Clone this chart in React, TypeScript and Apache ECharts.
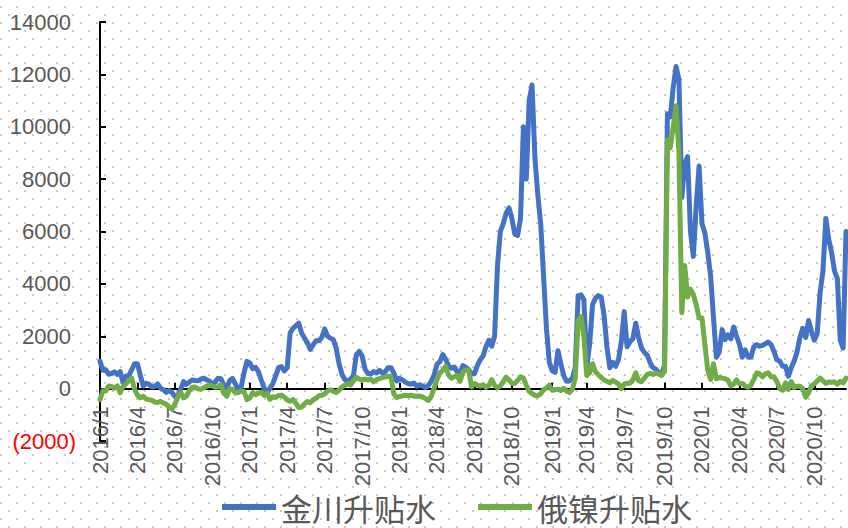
import React, { useEffect, useRef } from "react";
import * as echarts from "echarts";

// Weekly observations starting 2016-01-01
const startDate = "2016-01-01";

const quarterLabels = [
  "2016/1", "2016/4", "2016/7", "2016/10",
  "2017/1", "2017/4", "2017/7", "2017/10",
  "2018/1", "2018/4", "2018/7", "2018/10",
  "2019/1", "2019/4", "2019/7", "2019/10",
  "2020/1", "2020/4", "2020/7", "2020/10",
];

const yTicks = { min: -2000, max: 14000, interval: 2000 };

const jinchuanPremium = [
  1040, 700, 720, 550, 580, 640, 540, 650, 250, 480, 490, 720, 950,
  950, 500, 100, 200, 170, 60, 80, 180, 20, -40, -140, -70, -150,
  -300, -270, -30, 270, 160, 250, 330, 310, 300, 360, 400, 340, 290,
  180, 250, 400, 380, 130, 30, 300, 390, 180, -40, 50, 600, 1040,
  980, 760, 810, 650, 320, 20, -150, 20, 190, 490, 800, 840, 680,
  800, 2120, 2300, 2400, 2500, 2120, 1930, 1750, 1500, 1670, 1830, 1830, 1950,
  2280, 2000, 1930, 1870, 1550, 950, 550, 350, 290, 360, 500, 1300, 1420,
  1250, 750, 580, 560, 650, 600, 700, 600, 640, 800, 800, 600, 290,
  390, 330, 250, 190, 170, 210, 90, 150, 100, 40, 120, 280, 520,
  930, 1030, 1300, 1120, 870, 780, 820, 640, 620, 880, 820, 720, 560,
  570, 880, 1100, 1250, 1600, 1850, 1620, 2000, 4700, 6000, 6300, 6700, 6900,
  6500, 5900, 5850, 6500, 10000, 8000, 11000, 11600, 8800, 7400, 6300, 4300, 2300,
  1000, 680, 620, 1450, 950, 500, 280, 300, 400, 800, 3550, 3580, 3400,
  800, 1700, 3200, 3450, 3550, 3500, 2800, 1600, 800, 1000, 850, 1100, 1800,
  2940, 1600, 1800, 1900, 2500, 1950, 1550, 1380, 1280, 990, 800, 740, 600,
  530, 900, 10500, 10380, 11500, 12300, 11800, 7300, 8600, 8860, 6000, 5050, 7000,
  8500, 6300, 5950, 5200, 4300, 2700, 1200, 1400, 2250, 1870, 2050, 1900, 2350,
  2000, 1700, 1200, 1480, 1200, 1200, 1600, 1680, 1620, 1650, 1720, 1780, 1680,
  1420, 1100, 1050, 850, 850, 470, 800, 1050, 1400, 1950, 2300, 1950, 2600,
  2200, 1850, 2100, 3650, 4500, 6500, 5700, 5200, 4500, 4200, 1850, 1550, 6000,
];

const russianNickelPremium = [
  -420, -80, -90, 100, 80, 20, 100, -160, 80, 190, 300, 400, -30,
  -250, -350, -290, -400, -420, -450, -510, -530, -490, -550, -600, -700, -780,
  -600, -320, -150, -350, -290, -80, 50, 60, -10, -30, 30, 90, 140,
  100, 50, 60, 150, -180, -290, 0, -20, -170, -150, -90, -100, -420,
  -360, -150, -230, -180, -130, -260, -180, -410, -310, -340, -260, -250, -320,
  -430, -480, -420, -560, -720, -700, -580, -490, -540, -430, -370, -270, -250,
  -200, -90, -40, -100, -150, -60, 60, 130, 190, 140, 300, 430, 360,
  330, 360, 330, 360, 260, 340, 380, 420, 440, 470, 460, -200, -340,
  -300, -280, -250, -270, -250, -290, -280, -290, -320, -380, -450, -300, 20,
  350, 600, 700, 850, 520, 400, 450, 500, 280, 650, 700, 700, 60,
  190, 140, 90, 150, 50, 120, 340, 120, 40, 100, 270, 440, 330,
  200, 200, 310, 450, 400, 130, -110, -190, -260, -270, -200, -40, 20,
  130, -60, -40, -20, -70, 10, -100, -150, -20, 400, 2600, 2750, 2000,
  500, 600, 950, 650, 530, 430, 330, 280, 220, 320, 250, 180, 0,
  170, 210, 210, 330, 600, 300, 260, 400, 540, 590, 540, 590, 560,
  500, 650, 9500, 9200, 10000, 10800, 9000, 2900, 4700, 3500, 3800, 3600, 3200,
  2700, 2700, 1700, 700, 350, 950, 380, 430, 400, 380, 330, 100, 170,
  330, 180, 200, 100, 50, 130, 350, 600, 560, 450, 560, 600, 450,
  450, 270, 0, -60, 220, -30, 270, 40, 90, 90, 0, -330, -160,
  110, 180, 290, 400, 300, 200, 250, 240, 260, 170, 280, 220, 400,
];

const seriesNames = ["金川升贴水", "俄镍升贴水"];
const seriesColors = ["#4472C4", "#70AD47"];

function buildDates(n: number): string[] {
  const t0 = Date.parse(startDate + "T00:00:00Z");
  const out: string[] = [];
  for (let i = 0; i < n; i++) {
    const d = new Date(t0 + i * 7 * 86400000);
    out.push(d.toISOString().slice(0, 10));
  }
  return out;
}

function buildLabelMap(): Map<number, string> {
  const t0 = Date.parse(startDate + "T00:00:00Z");
  const m = new Map<number, string>();
  quarterLabels.forEach((lab) => {
    const [y, mo] = lab.split("/").map(Number);
    const t = Date.UTC(y, mo - 1, 1);
    const idx = Math.round((t - t0) / 86400000 / 7);
    m.set(idx, lab);
  });
  return m;
}

const GRID_TOP = 22;
const GRID_BOTTOM = 87;
const CHART_H = 528;

export default function App() {
  const ref = useRef<HTMLDivElement>(null);

  useEffect(() => {
    document.body.style.margin = "0";
    if (!ref.current) return;
    const chart = echarts.init(ref.current, undefined, { renderer: "svg" });

    const dates = buildDates(jinchuanPremium.length);
    const labelMap = buildLabelMap();
    const showIdx = (i: number) => labelMap.has(i);

    // distance from the grid bottom (min of y axis) up to the zero line
    const gridH = CHART_H - GRID_TOP - GRID_BOTTOM;
    const zeroOffset =
      (gridH * (0 - yTicks.min)) / (yTicks.max - yTicks.min);

    const tile = document.createElement("canvas");
    tile.width = 16;
    tile.height = 16;
    const ctx = tile.getContext("2d");
    if (ctx) {
      ctx.fillStyle = "#c9c9c9";
      ctx.fillRect(0, 6, 2, 2);
      ctx.fillRect(8, 14, 2, 2);
    }

    const option: any = {
      animation: false,
      backgroundColor: "#ffffff",
      graphic: [
        {
          type: "rect",
          silent: true,
          z: -100,
          shape: { x: 0, y: 0, width: 848, height: 528 },
          style: {
            fill: { image: tile, repeat: "repeat", imageWidth: 16, imageHeight: 16 },
          },
        },
      ],
      grid: {
        left: 100,
        right: 2,
        top: GRID_TOP,
        bottom: GRID_BOTTOM,
        containLabel: false,
        outerBoundsMode: "none",
      },
      legend: {
        data: seriesNames,
        left: 222,
        top: 491,
        padding: 0,
        icon: "rect",
        itemWidth: 54,
        itemHeight: 6,
        itemGap: 42,
        textStyle: {
          fontSize: 31,
          lineHeight: 32,
          color: "#595959",
          fontFamily: "Noto Sans CJK SC",
        },
      },
      xAxis: {
        type: "category",
        data: dates,
        boundaryGap: false,
        position: "bottom",
        offset: -zeroOffset,
        axisLine: { onZero: false, lineStyle: { color: "#000000", width: 2 } },
        axisTick: {
          show: true,
          inside: true,
          length: 6,
          interval: (i: number) => showIdx(i),
          lineStyle: { color: "#000000", width: 2 },
        },
        axisLabel: {
          rotate: 90,
          margin: 18,
          fontSize: 22,
          color: "#595959",
          fontFamily: "Liberation Sans",
          interval: (i: number) => showIdx(i),
          formatter: (_v: string, i: number) => labelMap.get(i) ?? "",
        },
        splitLine: { show: false },
      },
      yAxis: {
        type: "value",
        min: yTicks.min,
        max: yTicks.max,
        interval: yTicks.interval,
        axisLine: { show: true, lineStyle: { color: "#000000", width: 2 } },
        axisTick: {
          show: true,
          inside: true,
          length: 6,
          lineStyle: { color: "#000000", width: 2 },
        },
        splitLine: { show: false },
        axisLabel: {
          margin: 24,
          formatter: (v: number) =>
            v < 0 ? `{neg|(${Math.abs(v)})}` : `{pos|${v}}`,
          rich: {
            neg: {
              color: "#FF0000",
              fontSize: 22,
              fontFamily: "Liberation Sans",
            },
            pos: {
              color: "#595959",
              fontSize: 22,
              fontFamily: "Liberation Sans",
              padding: [0, 5, 0, 0],
            },
          },
        },
      },
      series: [
        {
          name: seriesNames[0],
          type: "line",
          data: jinchuanPremium,
          showSymbol: false,
          symbol: "none",
          color: seriesColors[0],
          lineStyle: { width: 5, color: seriesColors[0], join: "round", cap: "round" },
          z: 2,
        },
        {
          name: seriesNames[1],
          type: "line",
          data: russianNickelPremium,
          showSymbol: false,
          symbol: "none",
          color: seriesColors[1],
          lineStyle: { width: 5, color: seriesColors[1], join: "round", cap: "round" },
          z: 3,
        },
      ],
    };

    chart.setOption(option);
    return () => chart.dispose();
  }, []);

  return (
    <div
      ref={ref}
      style={{ position: "absolute", left: 0, top: 0, width: 848, height: 528 }}
    />
  );
}
